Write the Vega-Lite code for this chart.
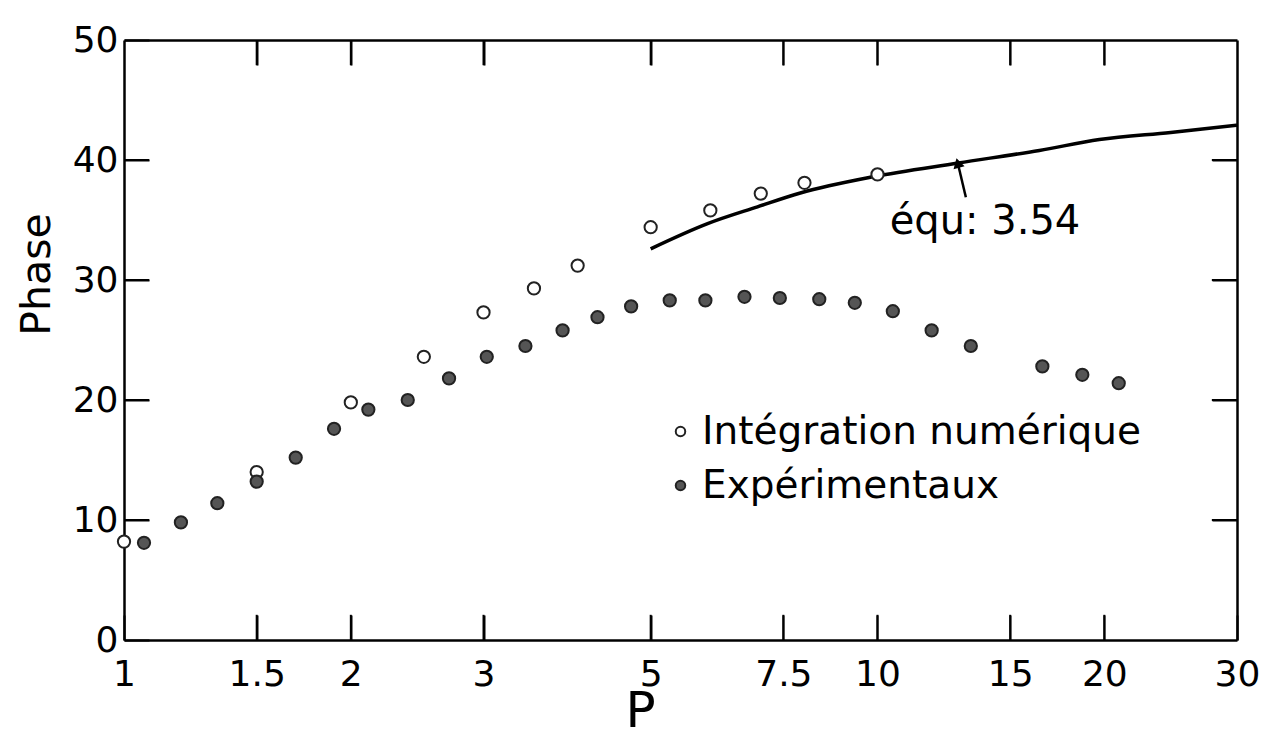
{
  "$schema": "https://vega.github.io/schema/vega-lite/v6.json",
  "autosize": "none",
  "width": 1113,
  "height": 600,
  "padding": {"left": 124, "top": 40, "right": 26, "bottom": 99},
  "background": "white",
  "config": {
    "font": "DejaVu Sans",
    "view": {"stroke": null},
    "axis": {"grid": false, "domainColor": "black", "domainWidth": 2.5, "tickColor": "black", "tickWidth": 2, "labelColor": "black", "titleColor": "black", "labelFont": "DejaVu Sans", "titleFont": "DejaVu Sans", "titleFontWeight": "normal"}
  },
  "datasets": {
    "pts": [
      {"serie": "Intégration numérique", "p": 1, "phase": 8.2},
      {"serie": "Intégration numérique", "p": 1.5, "phase": 14.0},
      {"serie": "Intégration numérique", "p": 2, "phase": 19.8},
      {"serie": "Intégration numérique", "p": 2.5, "phase": 23.6},
      {"serie": "Intégration numérique", "p": 3, "phase": 27.3},
      {"serie": "Intégration numérique", "p": 3.5, "phase": 29.3},
      {"serie": "Intégration numérique", "p": 4, "phase": 31.2},
      {"serie": "Intégration numérique", "p": 5, "phase": 34.4},
      {"serie": "Intégration numérique", "p": 6, "phase": 35.8},
      {"serie": "Intégration numérique", "p": 7, "phase": 37.2},
      {"serie": "Intégration numérique", "p": 8, "phase": 38.1},
      {"serie": "Intégration numérique", "p": 10, "phase": 38.8},
      {"serie": "Expérimentaux", "p": 1.063, "phase": 8.1},
      {"serie": "Expérimentaux", "p": 1.19, "phase": 9.8},
      {"serie": "Expérimentaux", "p": 1.33, "phase": 11.4},
      {"serie": "Expérimentaux", "p": 1.5, "phase": 13.2},
      {"serie": "Expérimentaux", "p": 1.69, "phase": 15.2},
      {"serie": "Expérimentaux", "p": 1.9, "phase": 17.6},
      {"serie": "Expérimentaux", "p": 2.11, "phase": 19.2},
      {"serie": "Expérimentaux", "p": 2.38, "phase": 20.0},
      {"serie": "Expérimentaux", "p": 2.7, "phase": 21.8},
      {"serie": "Expérimentaux", "p": 3.03, "phase": 23.6},
      {"serie": "Expérimentaux", "p": 3.41, "phase": 24.5},
      {"serie": "Expérimentaux", "p": 3.82, "phase": 25.8},
      {"serie": "Expérimentaux", "p": 4.25, "phase": 26.9},
      {"serie": "Expérimentaux", "p": 4.71, "phase": 27.8},
      {"serie": "Expérimentaux", "p": 5.3, "phase": 28.3},
      {"serie": "Expérimentaux", "p": 5.91, "phase": 28.3},
      {"serie": "Expérimentaux", "p": 6.66, "phase": 28.6},
      {"serie": "Expérimentaux", "p": 7.42, "phase": 28.5},
      {"serie": "Expérimentaux", "p": 8.37, "phase": 28.4},
      {"serie": "Expérimentaux", "p": 9.33, "phase": 28.1},
      {"serie": "Expérimentaux", "p": 10.48, "phase": 27.4},
      {"serie": "Expérimentaux", "p": 11.8, "phase": 25.8},
      {"serie": "Expérimentaux", "p": 13.3, "phase": 24.5},
      {"serie": "Expérimentaux", "p": 16.55, "phase": 22.8},
      {"serie": "Expérimentaux", "p": 18.7, "phase": 22.1},
      {"serie": "Expérimentaux", "p": 20.9, "phase": 21.4}
    ],
    "curve": [
      {"p": 5.0, "phase": 32.6},
      {"p": 5.95, "phase": 34.7},
      {"p": 6.93, "phase": 36.1},
      {"p": 7.9, "phase": 37.25},
      {"p": 9.86, "phase": 38.6},
      {"p": 12.8, "phase": 39.75},
      {"p": 16.4, "phase": 40.8},
      {"p": 19.7, "phase": 41.7},
      {"p": 24.5, "phase": 42.3},
      {"p": 30, "phase": 42.9}
    ],
    "note": [
      {"p": 10.38, "phase": 34.8, "label": "équ: 3.54", "p_tail": 13.1, "phase_tail": 36.9, "p_tip": 12.78, "phase_tip": 39.75}
    ],
    "xticks": [{"p": 1.5}, {"p": 2}, {"p": 3}, {"p": 5}, {"p": 7.5}, {"p": 10}, {"p": 15}, {"p": 20}],
    "yticks": [{"phase": 10}, {"phase": 20}, {"phase": 30}, {"phase": 40}]
  },
  "resolve": {"axis": {"x": "independent", "y": "independent"}},
  "layer": [
    {
      "data": {"name": "curve"},
      "mark": {"type": "line", "color": "black", "strokeWidth": 3.5, "interpolate": "monotone"},
      "encoding": {
        "x": {"field": "p", "type": "quantitative", "scale": {"type": "log", "domain": [1, 30], "nice": false},
          "axis": {"orient": "bottom", "values": [1, 1.5, 2, 3, 5, 7.5, 10, 15, 20, 30], "format": ".2~f", "tickSize": -25, "labelFontSize": 36, "labelPadding": 42, "labelFlush": false, "title": "P", "titleFontSize": 50, "titleX": 516, "titleY": 46}},
        "y": {"field": "phase", "type": "quantitative", "scale": {"domain": [0, 50], "nice": false},
          "axis": {"orient": "left", "values": [0, 10, 20, 30, 40, 50], "tickSize": -25, "labelFontSize": 36, "labelPadding": 31, "labelBaseline": "middle", "labelFlush": false, "title": "Phase", "titleFontSize": 41, "titleX": -66, "titleY": 234}}
      }
    },
    {
      "data": {"name": "pts"},
      "mark": {"type": "point", "filled": true, "size": 150, "stroke": "#222", "strokeWidth": 2, "opacity": 1},
      "encoding": {
        "x": {"field": "p", "type": "quantitative", "scale": {"type": "log", "domain": [1, 30], "nice": false},
          "axis": {"orient": "top", "values": [1.5, 2, 3, 5, 7.5, 10, 15, 20], "tickSize": -25, "labels": false, "title": null}},
        "y": {"field": "phase", "type": "quantitative", "scale": {"domain": [0, 50], "nice": false},
          "axis": {"orient": "right", "values": [10, 20, 30, 40], "tickSize": -25, "labels": false, "title": null}},
        "fill": {"field": "serie", "type": "nominal", "scale": {"domain": ["Intégration numérique", "Expérimentaux"], "range": ["white", "#555555"]},
          "legend": {"orient": "none", "legendX": 537, "legendY": 372, "title": null, "labelFontSize": 39, "labelLimit": 700, "labelColor": "black", "symbolSize": 90, "symbolStrokeColor": "#222", "symbolStrokeWidth": 2, "symbolType": "circle", "rowPadding": 14, "labelOffset": 2}}
      }
    },
    {
      "data": {"name": "note"},
      "mark": {"type": "text", "fontSize": 40, "align": "left", "baseline": "middle", "color": "black"},
      "encoding": {
        "x": {"field": "p", "type": "quantitative", "scale": {"type": "log", "domain": [1, 30], "nice": false}, "axis": null},
        "y": {"field": "phase", "type": "quantitative", "scale": {"domain": [0, 50], "nice": false}, "axis": null},
        "text": {"field": "label"}
      }
    },
    {
      "data": {"name": "note"},
      "mark": {"type": "rule", "color": "black", "strokeWidth": 2.5},
      "encoding": {
        "x": {"field": "p_tail", "type": "quantitative", "scale": {"type": "log", "domain": [1, 30], "nice": false}, "axis": null},
        "y": {"field": "phase_tail", "type": "quantitative", "scale": {"domain": [0, 50], "nice": false}, "axis": null},
        "x2": {"field": "p_tip"},
        "y2": {"field": "phase_tip"}
      }
    },
    {
      "data": {"name": "note"},
      "mark": {"type": "point", "shape": "triangle-up", "filled": true, "color": "black", "size": 130, "angle": -15, "opacity": 1},
      "encoding": {
        "x": {"field": "p_tip", "type": "quantitative", "scale": {"type": "log", "domain": [1, 30], "nice": false}, "axis": null},
        "y": {"field": "phase_tip", "type": "quantitative", "scale": {"domain": [0, 50], "nice": false}, "axis": null}
      }
    },
    {
      "data": {"name": "xticks"},
      "mark": {"type": "rule", "color": "black", "strokeWidth": 2},
      "encoding": {
        "x": {"field": "p", "type": "quantitative", "scale": {"type": "log", "domain": [1, 30], "nice": false}, "axis": null},
        "y": {"datum": 0, "type": "quantitative", "scale": {"domain": [0, 50], "nice": false}, "axis": null},
        "y2": {"datum": 2.1}
      }
    },
    {
      "data": {"name": "xticks"},
      "mark": {"type": "rule", "color": "black", "strokeWidth": 2},
      "encoding": {
        "x": {"field": "p", "type": "quantitative", "scale": {"type": "log", "domain": [1, 30], "nice": false}, "axis": null},
        "y": {"datum": 47.9, "type": "quantitative", "scale": {"domain": [0, 50], "nice": false}, "axis": null},
        "y2": {"datum": 50}
      }
    },
    {
      "data": {"name": "yticks"},
      "mark": {"type": "rule", "color": "black", "strokeWidth": 2},
      "encoding": {
        "y": {"field": "phase", "type": "quantitative", "scale": {"domain": [0, 50], "nice": false}, "axis": null},
        "x": {"datum": 1, "type": "quantitative", "scale": {"type": "log", "domain": [1, 30], "nice": false}, "axis": null},
        "x2": {"datum": 1.08}
      }
    },
    {
      "data": {"name": "yticks"},
      "mark": {"type": "rule", "color": "black", "strokeWidth": 2},
      "encoding": {
        "y": {"field": "phase", "type": "quantitative", "scale": {"domain": [0, 50], "nice": false}, "axis": null},
        "x": {"datum": 27.78, "type": "quantitative", "scale": {"type": "log", "domain": [1, 30], "nice": false}, "axis": null},
        "x2": {"datum": 30}
      }
    }
  ]
}
